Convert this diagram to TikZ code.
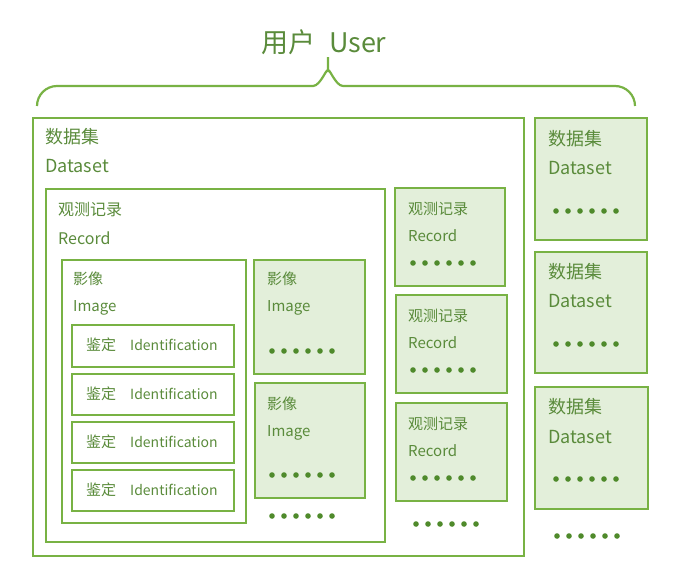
\documentclass[tikz,border=0pt]{standalone}
\usepackage{fontspec}
\setmainfont{Noto Sans CJK SC}

\definecolor{LineGreen}{HTML}{78B244}
\definecolor{TextGreen}{HTML}{5A8B3B}
\definecolor{FillGreen}{HTML}{E3EFDA}
\definecolor{DotGreen}{HTML}{4F8A2B}

\tikzstyle{box}=[draw={LineGreen}, line width=2pt, anchor=north west, inner sep=0pt]
\tikzstyle{box-filled}=[box, fill={FillGreen}]
\tikzstyle{label-big}=[anchor=west, inner sep=0pt, text={TextGreen}, font=\fontsize{18}{21}\selectfont]
\tikzstyle{label-mid}=[anchor=west, inner sep=0pt, text={TextGreen}, font=\fontsize{16}{19}\selectfont]
\tikzstyle{label-small}=[anchor=west, inner sep=0pt, text={TextGreen}, font=\fontsize{15}{18}\selectfont]
\tikzstyle{label-ident}=[anchor=west, inner sep=0pt, text={TextGreen}, font=\fontsize{14}{17}\selectfont]
\tikzstyle{dot}=[fill={DotGreen}]

\begin{document}
\begin{tikzpicture}[x=1pt, y=-1pt]
      \useasboundingbox (0,0) rectangle (700,573);

      % user and brace
      \node (user) at (324,42) [text={TextGreen}, font=\fontsize{27}{30}\selectfont] {用户\hspace{0.5em}User};
      \draw[LineGreen, line width=2.2pt] (37,106) arc (180:270:20) -- (313,86) to[out=0, in=90] (328,72) -- (328,57);
      \draw[LineGreen, line width=2.2pt] (635,106) arc (0:-90:20) -- (343,86) to[out=180, in=90] (328,72);

      % dataset 1
      \node (dataset:1) at (32,117) [box, minimum width=491pt, minimum height=438pt] {};
      \node (dataset:1:zh) at (45,137) [label-big] {数据集};
      \node (dataset:1:en) at (45,166) [label-big] {Dataset};

      % record 1
      \node (record:1) at (45,188) [box, minimum width=339pt, minimum height=353pt] {};
      \node (record:1:zh) at (58,210) [label-mid] {观测记录};
      \node (record:1:en) at (58,238) [label-mid] {Record};

      % image 1
      \node (image:1) at (61,259) [box, minimum width=184pt, minimum height=263pt] {};
      \node (image:1:zh) at (73,279) [label-small] {影像};
      \node (image:1:en) at (73,308) [label-small] {Image};

      \node (ident:1) at (71,324) [box, minimum width=162pt, minimum height=42pt] {};
      \node (ident:2) at (71,373) [box, minimum width=162pt, minimum height=41pt] {};
      \node (ident:3) at (71,421) [box, minimum width=162pt, minimum height=41pt] {};
      \node (ident:4) at (71,469) [box, minimum width=162pt, minimum height=41pt] {};
      \node (ident:1:zh) at (86,345) [label-small] {鉴定};
      \node (ident:2:zh) at (86,394) [label-small] {鉴定};
      \node (ident:3:zh) at (86,442) [label-small] {鉴定};
      \node (ident:4:zh) at (86,490) [label-small] {鉴定};
      \node (ident:1:en) at (130,345) [label-ident] {Identification};
      \node (ident:2:en) at (130,394) [label-ident] {Identification};
      \node (ident:3:en) at (130,442) [label-ident] {Identification};
      \node (ident:4:en) at (130,490) [label-ident] {Identification};

      % image 2, 3
      \node (image:2) at (253,259) [box-filled, minimum width=111pt, minimum height=114pt] {};
      \node (image:2:zh) at (267,279) [label-small] {影像};
      \node (image:2:en) at (267,308) [label-small] {Image};
      \node (image:3) at (254,382) [box-filled, minimum width=110pt, minimum height=115pt] {};
      \node (image:3:zh) at (267,404) [label-small] {影像};
      \node (image:3:en) at (267,433) [label-small] {Image};

      % record 2, 3, 4
      \node (record:2) at (394,187) [box-filled, minimum width=110pt, minimum height=98pt] {};
      \node (record:2:zh) at (408,209) [label-small] {观测记录};
      \node (record:2:en) at (408,236) [label-small] {Record};
      \node (record:3) at (395,294) [box-filled, minimum width=111pt, minimum height=98pt] {};
      \node (record:3:zh) at (408,316) [label-small] {观测记录};
      \node (record:3:en) at (408,343) [label-small] {Record};
      \node (record:4) at (395,402) [box-filled, minimum width=111pt, minimum height=98pt] {};
      \node (record:4:zh) at (408,424) [label-small] {观测记录};
      \node (record:4:en) at (408,451) [label-small] {Record};

      % dataset 2, 3, 4
      \node (dataset:2) at (534,117) [box-filled, minimum width=112pt, minimum height=122pt] {};
      \node (dataset:2:zh) at (548,139) [label-big] {数据集};
      \node (dataset:2:en) at (548,168) [label-big] {Dataset};
      \node (dataset:3) at (534,251) [box-filled, minimum width=112pt, minimum height=121pt] {};
      \node (dataset:3:zh) at (548,272) [label-big] {数据集};
      \node (dataset:3:en) at (548,301) [label-big] {Dataset};
      \node (dataset:4) at (534,386) [box-filled, minimum width=113pt, minimum height=122pt] {};
      \node (dataset:4:zh) at (548,407) [label-big] {数据集};
      \node (dataset:4:en) at (548,437) [label-big] {Dataset};

      % dots
      \foreach \x/\y in {272/351, 272/475, 272/516, 413/263, 413/370, 413/478, 416/524, 556/211, 556/344, 556/479, 557/536}
        \foreach \i in {0,...,5}
          \fill[dot] ({\x+12*\i},\y) circle (2.8pt);
    \end{tikzpicture}
\end{document}
